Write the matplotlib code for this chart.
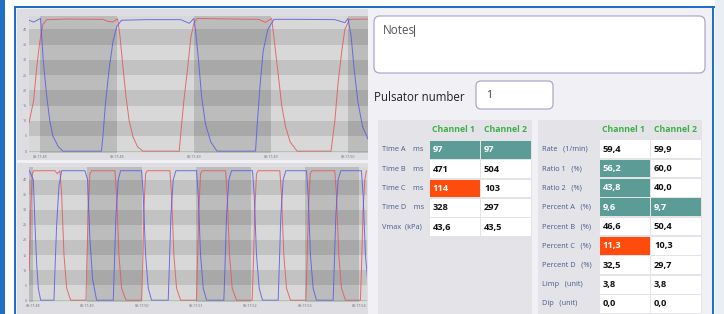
import matplotlib
matplotlib.use('Agg')
import matplotlib.pyplot as plt
from matplotlib.patches import Rectangle, FancyBboxPatch

plt.rcParams['font.family'] = ['Open Sans', 'DejaVu Sans']

# ---- pulsation curves (time in ms, vacuum in kPa) ----
# top chart, short time window
t1_red = [0, 30, 50, 70, 90, 115, 250, 480, 515, 545, 575, 590, 610, 630, 650, 675, 705, 740,
          975, 985, 1005, 1030, 1050, 1070, 1090, 1320, 1490, 1535, 1575, 1595, 1620, 1640, 1665,
          1695, 1740, 1960, 1985, 2005, 2030, 2050, 2080, 2200]
v1_red = [9.3, 16.6, 27.5, 36, 41.6, 43.2, 43.4, 43.3, 42.6, 42.5, 43.5, 38, 27.5, 17.7, 10, 4.7,
          1.4, 0, 0, 5.8, 16.6, 27.5, 37.3, 42, 43.6, 43.4, 43.3, 42.3, 43.6, 35, 24, 15, 8,
          3, 0, 0, 10, 22, 33, 40, 43.3, 43.4]
t1_blue = [0, 30, 60, 75, 82, 92, 115, 135, 155, 190, 220, 470, 480, 495, 520, 545, 570, 600,
           760, 985, 1040, 1070, 1080, 1100, 1120, 1145, 1180, 1220, 1470, 1480, 1500, 1520, 1550,
           1590, 1750, 1985, 2050, 2070, 2090, 2110, 2135, 2165, 2200]
v1_blue = [43, 42.4, 43.2, 43.6, 38, 30, 18, 10, 5, 1.5, 0, 0, 5, 15, 27, 36, 41, 43,
           43.2, 43.2, 42, 43.6, 40, 30, 18, 9, 3, 0, 0, 8, 22, 33, 40,
           43.3, 43.3, 43.2, 42.2, 43.6, 38, 27, 16, 8, 4]
x1_ticks = [70, 570, 1070, 1570, 2070]
x1_labels = ['09:17:48', '09:17:48', '09:17:49', '09:17:49', '09:17:50']
x1_dark = [(70, 570), (1070, 1570), (2070, 2200)]

# bottom chart, longer time window
t2_blue = [6, 80, 110, 141, 171, 214, 459, 477, 508, 551, 600, 1028, 1077, 1120, 1169, 1242,
           1548, 1566, 1597, 1640, 1683, 2069, 2099, 2142, 2191, 2252, 2558, 2576, 2607, 2650,
           2699, 3078, 3109, 3152, 3201, 3262, 3580, 3599, 3629, 3672, 3721, 4107, 4137, 4180,
           4229, 4290, 4578, 4596, 4627, 4670, 4719, 5098, 5129, 5171, 5220, 5281, 5588, 5606,
           5637, 5679, 5728, 6108, 6138, 6181, 6230]
v2_blue = [43, 40, 25, 12, 4, 0, 0, 10, 25, 38, 43, 43, 40, 20, 7, 0,
           0, 10, 28, 40, 43, 43, 35, 15, 4, 0, 0, 10, 28, 40,
           43, 43, 35, 15, 4, 0, 0, 10, 28, 40, 43, 43, 35, 15,
           4, 0, 0, 10, 28, 40, 43, 43, 35, 15, 4, 0, 0, 10,
           28, 40, 43, 43, 35, 15, 5]
t2_red = [6, 31, 61, 92, 477, 520, 569, 600, 643, 692, 765, 1047, 1059, 1089, 1120, 1151,
          1579, 1610, 1652, 1701, 1781, 2069, 2087, 2111, 2142, 2173, 2589, 2619, 2662, 2711,
          2785, 3078, 3091, 3121, 3152, 3182, 3611, 3641, 3684, 3733, 3813, 4100, 4119, 4149,
          4180, 4211, 4608, 4639, 4682, 4731, 4804, 5086, 5104, 5135, 5166, 5196, 5618, 5649,
          5692, 5741, 5814, 6089, 6108, 6138, 6169, 6200, 6261]
v2_red = [10, 30, 42, 43, 43, 42, 43, 35, 15, 4, 0, 0, 10, 30, 42, 43,
          43, 35, 15, 4, 0, 0, 10, 30, 42, 43, 43, 35, 15, 4,
          0, 0, 10, 30, 42, 43, 43, 35, 15, 4, 0, 0, 10, 30,
          42, 43, 43, 35, 15, 4, 0, 0, 10, 30, 42, 43, 43, 35,
          15, 4, 0, 0, 10, 30, 40, 43, 43]
x2_ticks = [70, 1070, 2070, 3070, 4070, 5070, 6070]
x2_labels = ['09:17:48', '09:17:49', '09:17:50', '09:17:51', '09:17:52', '09:17:53', '09:17:54']
x2_dark = [(0, 70), (1070, 2070), (3070, 4070), (5070, 6070)]

y_ticks = [0, 5, 10, 15, 20, 25, 30, 35, 40]

# ---- tables ----
channels = ['Channel 1', 'Channel 2']
left_rows = ['Time A    ms', 'Time B    ms', 'Time C    ms', 'Time D    ms', 'Vmax  (kPa)']
left_ch1 = ['97', '471', '114', '328', '43,6']
left_ch2 = ['97', '504', '103', '297', '43,5']
left_ch1_state = ['hi', '', 'alarm', '', '']
left_ch2_state = ['hi', '', '', '', '']

right_rows = ['Rate   (1/min)', 'Ratio 1   (%)', 'Ratio 2   (%)', 'Percent A   (%)',
              'Percent B   (%)', 'Percent C   (%)', 'Percent D   (%)', 'Limp   (unit)', 'Dip   (unit)']
right_ch1 = ['59,4', '56,2', '43,8', '9,6', '46,6', '11,3', '32,5', '3,8', '0,0']
right_ch2 = ['59,9', '60,0', '40,0', '9,7', '50,4', '10,3', '29,7', '3,8', '0,0']
right_ch1_state = ['', 'hi', 'hi', 'hi', '', 'alarm', '', '', '']
right_ch2_state = ['', '', '', 'hi', '', '', '', '', '']

state_color = {'': 'white', 'hi': '#5c9c97', 'alarm': '#ff4b0c'}

W, H = 724, 314
fig = plt.figure(figsize=(W / 100, H / 100), dpi=100)
fig.patch.set_facecolor('white')

bg = fig.add_axes([0, 0, 1, 1])
bg.set_xlim(0, W)
bg.set_ylim(H, 0)
bg.axis('off')

blue = '#1f6fc5'
# window frame
bg.add_patch(Rectangle((715, 0), 9, H, color='#e9eef5', lw=0))
bg.add_patch(Rectangle((15, 7), 699, H, color='#f1f1f5', lw=0))
bg.add_patch(Rectangle((0, 0), 4.5, H, color=blue, lw=0))
bg.add_patch(Rectangle((13.5, 5.5), 701, 2.2, color=blue, lw=0))
bg.add_patch(Rectangle((13.5, 5.5), 2.2, H, color=blue, lw=0))
bg.add_patch(Rectangle((711.8, 5.5), 2.2, H, color=blue, lw=0))

# chart panels
bg.add_patch(Rectangle((17, 9), 351, 151, color='#dedee2', lw=0))
bg.add_patch(Rectangle((17, 162.5), 351, 151, color='#dedee2', lw=0))

# notes box and pulsator number
bg.add_patch(FancyBboxPatch((374, 16), 331, 57, boxstyle='round,pad=0,rounding_size=6',
                            fc='white', ec='#a9a9cf', lw=0.9))
bg.text(383, 30.5, 'Notes', fontsize=8.4, color='#555555', va='center', ha='left')
bg.plot([413.5, 413.5], [25, 36], color='#333333', lw=0.6)
bg.text(374, 97.5, 'Pulsator number', fontsize=8.3, color='#222222', va='center', ha='left')
bg.add_patch(FancyBboxPatch((476, 81), 77, 28, boxstyle='round,pad=0,rounding_size=5',
                            fc='white', ec='#a9a9cf', lw=0.9))
bg.text(486, 95, '1', fontsize=7.5, color='#333333', va='center', ha='left')


def draw_table(x0, x1, label_w, col_w, head_h, row_h, rows, ch1, ch2, st1, st2):
    bg.add_patch(Rectangle((x0, 120), x1 - x0, H - 120, color='#e4e4e8', lw=0))
    cx = [x0 + label_w, x0 + label_w + col_w]
    for j, name in enumerate(channels):
        bg.text(cx[j] + 3.5, 120 + head_h / 2, name, fontsize=6.3, fontweight='bold',
                color='#3fae49', va='center', ha='left')
    for i, label in enumerate(rows):
        y = 120 + head_h + i * row_h
        bg.text(x0 + 4, y + row_h / 2, label, fontsize=5.3, color='#4a5a8e', va='center', ha='left')
        for j, (vals, states) in enumerate([(ch1, st1), (ch2, st2)]):
            fc = state_color[states[i]]
            bg.add_patch(Rectangle((cx[j] + 0.6, y + 0.8), col_w - 1.2, row_h - 1.6, fc=fc, lw=0))
            tc = 'white' if states[i] else '#111111'
            bg.text(cx[j] + 3.5, y + row_h / 2, vals[i], fontsize=6.7, fontweight='bold',
                    color=tc, va='center', ha='left')


draw_table(378, 532, 51, 51.5, 20, 19.4, left_rows, left_ch1, left_ch2, left_ch1_state, left_ch2_state)
draw_table(538, 702, 61, 51.5, 19.5, 19.35, right_rows, right_ch1, right_ch2, right_ch1_state, right_ch2_state)


def draw_chart(rect, t_red, v_red, t_blue, v_blue, xlim, dark, ticks, labels):
    ax = fig.add_axes(rect)
    ax.set_facecolor('#d8d8d8')
    for lo in [5, 15, 25, 35]:
        ax.axhspan(lo, lo + 5, color='#c2c2c2', lw=0)
    for a, b in dark:
        ax.axvspan(a, b, color='black', alpha=0.13, lw=0)
    ax.plot(t_red, v_red, color='#e2585c', lw=0.7, alpha=0.85)
    ax.plot(t_blue, v_blue, color='#5a5ae6', lw=0.7, alpha=0.85)
    ax.plot(xlim, [0, 0], color='#6a9a6a', lw=0.4, alpha=0.6)
    ax.set_xlim(*xlim)
    ax.set_ylim(-0.6, 44.4)
    ax.set_yticks(y_ticks)
    ax.set_xticks(ticks)
    ax.set_xticklabels(labels)
    ax.tick_params(length=0, labelsize=2.6, colors='#707070', pad=1.5)
    for s in ax.spines.values():
        s.set_visible(False)
    return ax


draw_chart([29 / W, 1 - 153 / H, 339 / W, 137 / H], t1_red, v1_red, t1_blue, v1_blue,
           (0, 2200), x1_dark, x1_ticks, x1_labels)
draw_chart([29 / W, 1 - 302 / H, 338 / W, 135.5 / H], t2_red, v2_red, t2_blue, v2_blue,
           (0, 6210), x2_dark, x2_ticks, x2_labels)

fig.savefig('out.png', dpi=100, facecolor=fig.get_facecolor())
